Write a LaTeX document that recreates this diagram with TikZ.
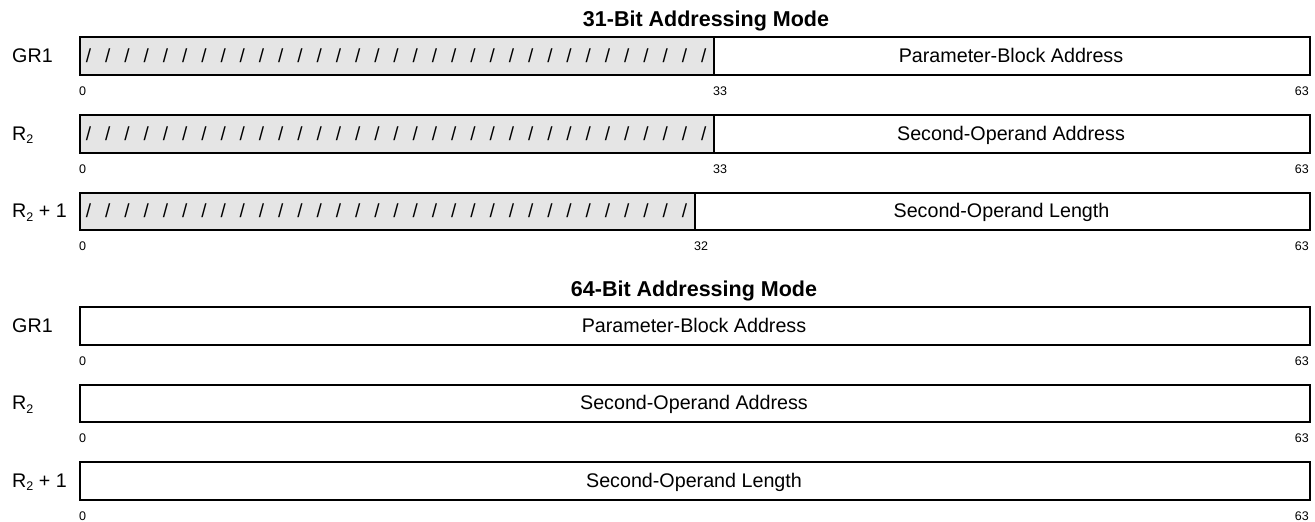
\documentclass[tikz,border=0pt]{standalone}
\usepackage{fontspec}
\setmainfont{Liberation Sans}
\newcommand{\subtwo}{\raisebox{-0.35ex}{\fontsize{12.5}{12.5}\selectfont 2}}
\begin{document}
\begin{tikzpicture}[x=1pt,y=-1pt,
  field/.style={draw,line width=2pt,rectangle,inner sep=0pt,minimum height=37.5pt,anchor=north west},
  shaded/.style={field,fill=black!10},
  txt/.style={inner sep=0pt,anchor=base,font=\fontsize{19.7}{21}\selectfont},
  reglabel/.style={inner sep=0pt,anchor=base west,font=\fontsize{19.7}{21}\selectfont},
  tick/.style={inner sep=0pt,font=\fontsize{12.5}{12.5}\selectfont},
  title/.style={inner sep=0pt,anchor=base,font=\bfseries\fontsize{21.5}{23}\selectfont},
  slash/.style={inner sep=0pt,anchor=base,font=\fontsize{19}{20}\selectfont}]
\useasboundingbox (0,0) rectangle (1315,522);

% ---------- 31-bit ----------
\node[title] (t31) at (706,26.5) {31-Bit Addressing Mode};

% GR1
\node[reglabel] (l1) at (12,62) {GR1};
\node[shaded,minimum width=634pt] (a1s) at (79,36) {};
\node[field,minimum width=596pt] (a1w) at (713,36) {};
\node[txt] (a1t) at (1011,62) {Parameter-Block Address};
\foreach \i in {0,...,32} \node[slash] (a1x\i) at ({79+19.22*(\i+0.5)},62) {/};
\node[tick,anchor=west] (a1n0) at (79,91) {0};
\node[tick,anchor=west] (a1n33) at (713,91) {33};
\node[tick,anchor=east] (a1n63) at (1309,91) {63};

% R2
\node[reglabel] (l2) at (12,140) {R\subtwo};
\node[shaded,minimum width=634pt] (a2s) at (79,114) {};
\node[field,minimum width=596pt] (a2w) at (713,114) {};
\node[txt] (a2t) at (1011,140) {Second-Operand Address};
\foreach \i in {0,...,32} \node[slash] (a2x\i) at ({79+19.22*(\i+0.5)},140) {/};
\node[tick,anchor=west] (a2n0) at (79,169) {0};
\node[tick,anchor=west] (a2n33) at (713,169) {33};
\node[tick,anchor=east] (a2n63) at (1309,169) {63};

% R2+1
\node[reglabel] (l3) at (12,217.5) {R\subtwo\ + 1};
\node[shaded,minimum width=615pt] (a3s) at (79,191.5) {};
\node[field,minimum width=615pt] (a3w) at (694,191.5) {};
\node[txt] (a3t) at (1001.5,217.5) {Second-Operand Length};
\foreach \i in {0,...,31} \node[slash] (a3x\i) at ({79+19.22*(\i+0.5)},217.5) {/};
\node[tick,anchor=west] (a3n0) at (79,246.5) {0};
\node[tick,anchor=west] (a3n32) at (694,246.5) {32};
\node[tick,anchor=east] (a3n63) at (1309,246.5) {63};

% ---------- 64-bit ----------
\node[title] (t64) at (694,296) {64-Bit Addressing Mode};

\node[reglabel] (m1l) at (12,332) {GR1};
\node[field,minimum width=1230pt] (b1) at (79,306) {};
\node[txt] (b1t) at (694,332) {Parameter-Block Address};
\node[tick,anchor=west] (b1n0) at (79,361) {0};
\node[tick,anchor=east] (b1n63) at (1309,361) {63};

\node[reglabel] (m2l) at (12,409.5) {R\subtwo};
\node[field,minimum width=1230pt] (b2) at (79,383.5) {};
\node[txt] (b2t) at (694,409.5) {Second-Operand Address};
\node[tick,anchor=west] (b2n0) at (79,438.5) {0};
\node[tick,anchor=east] (b2n63) at (1309,438.5) {63};

\node[reglabel] (m3l) at (12,487) {R\subtwo\ + 1};
\node[field,minimum width=1230pt] (b3) at (79,461) {};
\node[txt] (b3t) at (694,487) {Second-Operand Length};
\node[tick,anchor=west] (b3n0) at (79,516) {0};
\node[tick,anchor=east] (b3n63) at (1309,516) {63};
\end{tikzpicture}
\end{document}
